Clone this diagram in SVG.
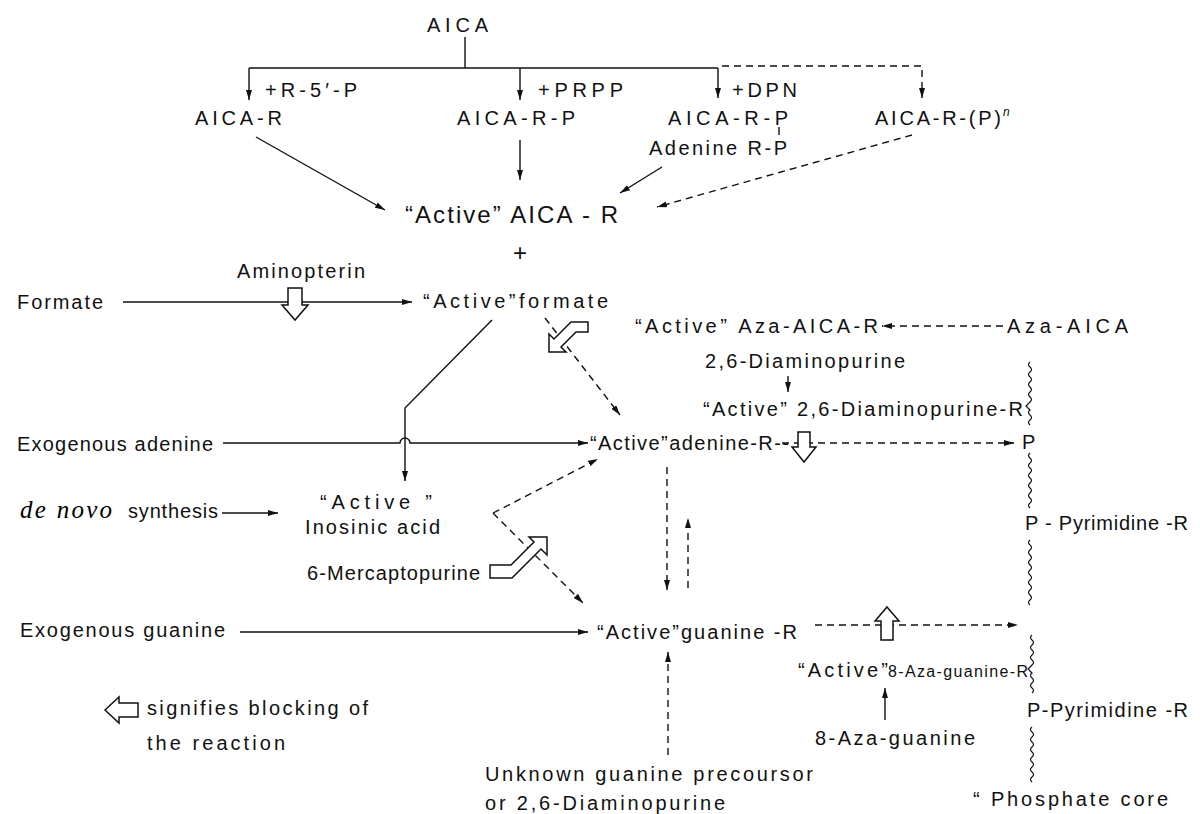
<svg xmlns="http://www.w3.org/2000/svg" width="1200" height="814" viewBox="0 0 1200 814">
<style>
.t{font-family:"Liberation Sans",Arial,sans-serif;font-size:20px;fill:#111}
.big{font-size:24px}
.sm{font-size:16px}
.it{font-family:"Liberation Serif","Times New Roman",serif;font-style:italic;font-size:25px}
.ln{fill:none;stroke:#111;stroke-width:1.4}
.dl{fill:none;stroke:#111;stroke-width:1.4;stroke-dasharray:7 5}
.wv{fill:none;stroke:#111;stroke-width:1.2}
.blk{fill:#fff;stroke:#111;stroke-width:1.5}
</style>
<defs>
<marker id="ah" viewBox="0 0 10 6" refX="10" refY="3" markerWidth="10" markerHeight="6" markerUnits="userSpaceOnUse" orient="auto"><path d="M0,0 L10,3 L0,6 Z" fill="#111"/></marker>
</defs>
<rect width="1200" height="814" fill="#fff"/>

<g id="connectors">
<path class="ln" d="M465,37 V68"/>
<path class="ln" d="M249,68 H718"/>
<path class="ln" d="M249,68 V100" marker-end="url(#ah)"/>
<path class="ln" d="M520,68 V100" marker-end="url(#ah)"/>
<path class="ln" d="M718,68 V98" marker-end="url(#ah)"/>
<path class="dl" d="M722,66 H922 V98" marker-end="url(#ah)"/>
<path class="ln" d="M256,137 L385,210" marker-end="url(#ah)"/>
<path class="ln" d="M520,140 V180" marker-end="url(#ah)"/>
<path class="ln" d="M779,127 V135"/>
<path class="ln" d="M662,167 L620,193" marker-end="url(#ah)"/>
<path class="dl" d="M912,135 L657,207" marker-end="url(#ah)"/>
<path class="ln" d="M123,302 H412" marker-end="url(#ah)"/>
<path class="ln" d="M492,320 L405,408 V481" marker-end="url(#ah)"/>
<path class="ln" d="M223,443 H400 A5,5 0 0 1 410,443 H588" marker-end="url(#ah)"/>
<path class="dl" d="M545,318 L620,415" marker-end="url(#ah)"/>
<path class="dl" d="M1003,326 H882" marker-end="url(#ah)"/>
<path class="ln" d="M788,376 V392" marker-end="url(#ah)"/>
<path class="dl" d="M782,443 H1014" marker-end="url(#ah)"/>
<path class="ln" d="M222,513 H278" marker-end="url(#ah)"/>
<path class="dl" d="M493,513 L598,459" marker-end="url(#ah)"/>
<path class="dl" d="M493,513 L583,603" marker-end="url(#ah)"/>
<path class="dl" d="M667,467 V590" marker-end="url(#ah)"/>
<path class="dl" d="M688,588 V518" marker-end="url(#ah)"/>
<path class="ln" d="M240,632 H588" marker-end="url(#ah)"/>
<path class="dl" d="M815,625 H1018" marker-end="url(#ah)"/>
<path class="dl" d="M668,755 V652" marker-end="url(#ah)"/>
<path class="ln" d="M885,720 V688" marker-end="url(#ah)"/>
</g>

<g id="phosphate-core-chain">
<path class="wv" d="M1030,362 q-3,2.5 0,5 t0,5 t0,5 t0,5 t0,5 t0,5 t0,5 t0,5 l-4,4 l4,4 q-3,2.5 0,5 t0,5 t0,5"/>
<path class="wv" d="M1030,453 q-3,2.5 0,5 t0,5 t0,5 t0,5 t0,5 t0,5 t0,5 t0,5 t0,5 t0,5 t0,5"/>
<path class="wv" d="M1030,540 q-3,2.5 0,5 t0,5 t0,5 t0,5 t0,5 t0,5 t0,5 t0,5 t0,5 t0,5 t0,5 t0,5 t0,5"/>
<path class="wv" d="M1032,635 q-3,2.5 0,5 t0,5 t0,5 t0,5 t0,5 t0,5 l-4,4 l4,4 q-3,2.5 0,5 t0,5 t0,5 t0,5"/>
<path class="wv" d="M1032,727 q-3,2.5 0,5 t0,5 t0,5 t0,5 t0,5 t0,5 t0,5 t0,5 t0,5 t0,5 t0,5"/>
</g>

<g id="blocks">
<path id="block-aminopterin" class="blk" d="M288,288 H302 V305 H308 L295,320 L282,305 H288 Z"/>
<path id="block-formate" class="blk" d="M549,352 L549,334 L554,339 L571,322 L588,322 L588,332 L576,332 L561,347 L566,352 Z"/>
<path id="block-adenine" class="blk" d="M798,432 H810 V447 H816 L804,462 L792,447 H798 Z"/>
<path id="block-mercaptopurine" class="blk" d="M547,537 L547,555 L541,549 L512,578 L490,578 L490,565 L511,565 L534,542 L529,537 Z"/>
<path id="block-guanine" class="blk" d="M887,607 L899,621 H893 V640 H881 V621 H875 Z"/>
<path id="block-legend" class="blk" d="M105,710 L119,697 V703 H138 V717 H119 V723 Z"/>
</g>

<g id="n-aica"><text class="t" x="427" y="32" textLength="61" lengthAdjust="spacing">AICA</text></g>
<g id="l-r5p"><text class="t" x="265" y="97" textLength="92" lengthAdjust="spacing">+R-5′-P</text></g>
<g id="n-aica-r"><text class="t" x="195" y="125" textLength="87" lengthAdjust="spacing">AICA-R</text></g>
<g id="l-prpp"><text class="t" x="538" y="97" textLength="85" lengthAdjust="spacing">+PRPP</text></g>
<g id="n-aica-r-p"><text class="t" x="457" y="125" textLength="118" lengthAdjust="spacing">AICA-R-P</text></g>
<g id="l-dpn"><text class="t" x="732" y="97" textLength="65" lengthAdjust="spacing">+DPN</text></g>
<g id="n-aica-r-p2"><text class="t" x="668" y="125" textLength="120" lengthAdjust="spacing">AICA-R-P</text></g>
<g id="n-adenine-rp"><text class="t" x="649" y="155" textLength="138" lengthAdjust="spacing">Adenine R-P</text></g>
<g id="n-aica-r-pn"><text class="t" x="875" y="125" textLength="126" lengthAdjust="spacing">AICA-R-(P)</text><text class="t" x="1003" y="116" style="font-size:12px;font-style:italic">n</text></g>
<g id="n-active-aica-r"><text class="t big" x="405" y="223" textLength="213" lengthAdjust="spacing">“Active” AICA - R</text></g>
<g id="l-plus"><text class="t big" x="520" y="261" text-anchor="middle">+</text></g>
<g id="l-aminopterin"><text class="t" x="237" y="278" textLength="128" lengthAdjust="spacing">Aminopterin</text></g>
<g id="n-formate"><text class="t" x="17" y="309" textLength="86" lengthAdjust="spacing">Formate</text></g>
<g id="n-active-formate"><text class="t" x="423" y="308" textLength="185" lengthAdjust="spacing">“Active”formate</text></g>
<g id="n-active-aza-aica-r"><text class="t" x="635" y="333" textLength="243" lengthAdjust="spacing">“Active” Aza-AICA-R</text></g>
<g id="n-aza-aica"><text class="t" x="1007" y="333" textLength="121" lengthAdjust="spacing">Aza-AICA</text></g>
<g id="n-diaminopurine"><text class="t" x="705" y="368" textLength="200" lengthAdjust="spacing">2,6-Diaminopurine</text></g>
<g id="n-active-diaminopurine-r"><text class="t" x="703" y="416" textLength="320" lengthAdjust="spacing">“Active” 2,6-Diaminopurine-R</text></g>
<g id="n-exo-adenine"><text class="t" x="17" y="451" textLength="196" lengthAdjust="spacing">Exogenous adenine</text></g>
<g id="n-active-adenine-r"><text class="t" x="590" y="450" textLength="199" lengthAdjust="spacing">“Active”adenine-R--</text></g>
<g id="n-p1"><text class="t" x="1022" y="449">P</text></g>
<g id="n-de-novo"><text class="it" x="20" y="518" textLength="92" lengthAdjust="spacing">de novo</text><text class="t" x="128" y="518" textLength="90" lengthAdjust="spacing">synthesis</text></g>
<g id="n-inosinic"><text class="t" x="320" y="509" textLength="112" lengthAdjust="spacing">“Active ”</text><text class="t" x="305" y="534" textLength="135" lengthAdjust="spacing">Inosinic acid</text></g>
<g id="l-mercaptopurine"><text class="t" x="307" y="580" textLength="173" lengthAdjust="spacing">6-Mercaptopurine</text></g>
<g id="n-p-pyrimidine1"><text class="t" x="1025" y="530" textLength="163" lengthAdjust="spacing">P - Pyrimidine -R</text></g>
<g id="n-exo-guanine"><text class="t" x="20" y="637" textLength="205" lengthAdjust="spacing">Exogenous guanine</text></g>
<g id="n-active-guanine-r"><text class="t" x="597" y="639" textLength="200" lengthAdjust="spacing">“Active”guanine -R</text></g>
<g id="n-active-8aza-r"><text class="t" x="798" y="677" textLength="90" lengthAdjust="spacing">“Active”</text><text class="t sm" x="888" y="677" textLength="140" lengthAdjust="spacing">8-Aza-guanine-R</text></g>
<g id="n-p-pyrimidine2"><text class="t" x="1027" y="717" textLength="161" lengthAdjust="spacing">P-Pyrimidine -R</text></g>
<g id="n-8aza"><text class="t" x="815" y="745" textLength="160" lengthAdjust="spacing">8-Aza-guanine</text></g>
<g id="legend"><text class="t" x="147" y="715" textLength="221" lengthAdjust="spacing">signifies blocking of</text><text class="t" x="147" y="750" textLength="138" lengthAdjust="spacing">the reaction</text></g>
<g id="n-unknown"><text class="t" x="485" y="781" textLength="328" lengthAdjust="spacing">Unknown guanine precoursor</text><text class="t" x="485" y="810" textLength="240" lengthAdjust="spacing">or 2,6-Diaminopurine</text></g>
<g id="n-phosphate-core"><text class="t" x="973" y="806" textLength="195" lengthAdjust="spacing">“ Phosphate core</text></g>
</svg>
